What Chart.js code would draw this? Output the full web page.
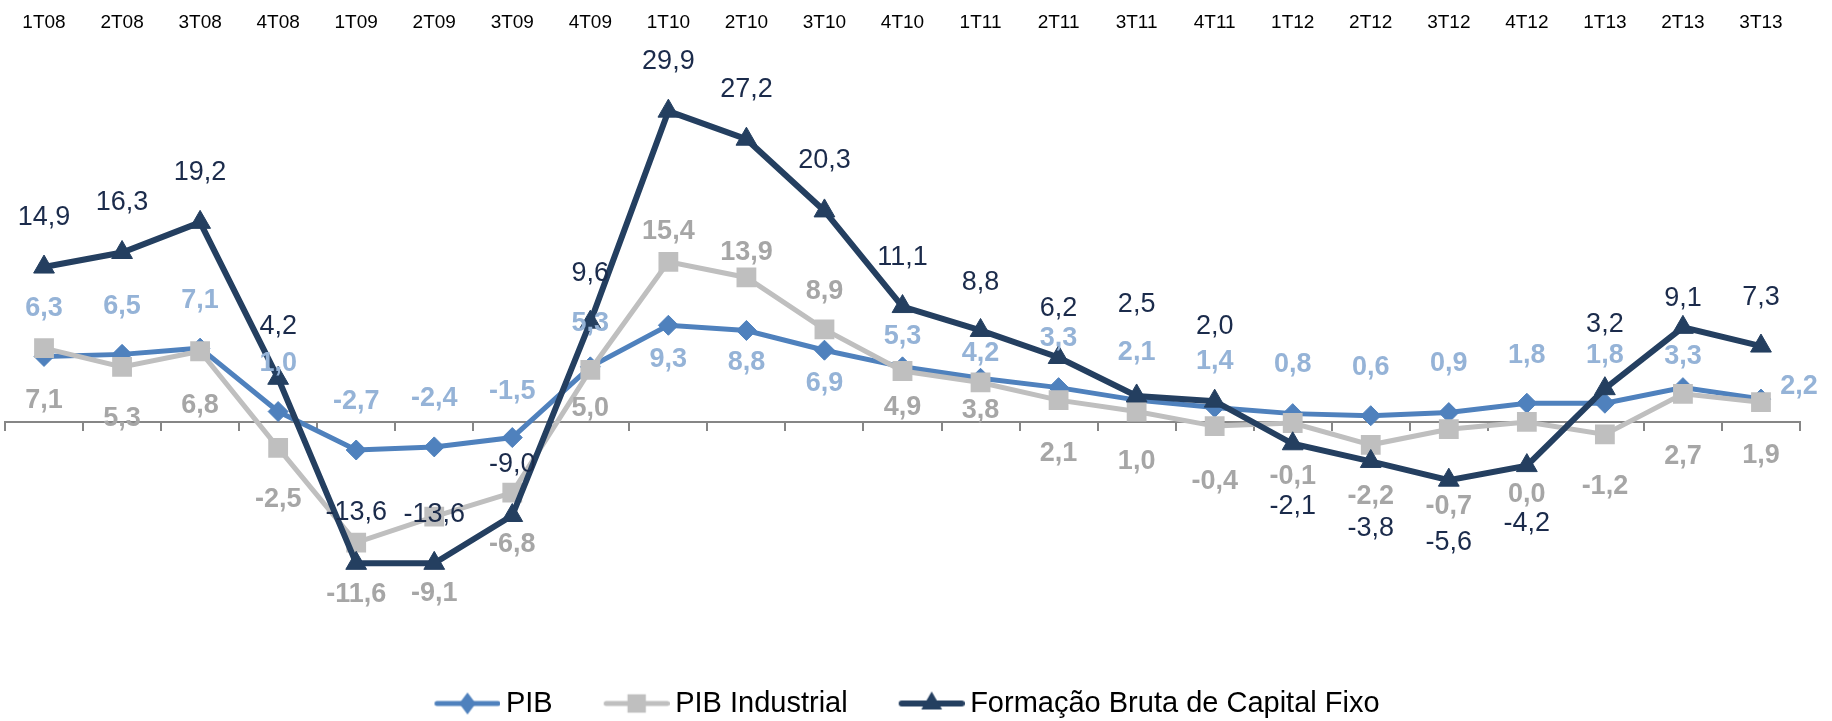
<!DOCTYPE html>
<html lang="pt">
<head>
<meta charset="utf-8">
<title>PIB, PIB Industrial e FBCF</title>
<script src="https://cdn.jsdelivr.net/npm/chart.js@4.4.0/dist/chart.umd.min.js"></script>
<style>
  html, body { margin: 0; padding: 0; background: #fff; }
  #wrap { width: 1832px; height: 721px; position: relative; }
</style>
</head>
<body>
<div id="wrap"><canvas id="grafico"></canvas></div>
<script>
const trimestres = ["1T08", "2T08", "3T08", "4T08", "1T09", "2T09", "3T09", "4T09",
  "1T10", "2T10", "3T10", "4T10", "1T11", "2T11", "3T11", "4T11",
  "1T12", "2T12", "3T12", "4T12", "1T13", "2T13", "3T13"];

const pib = [6.3, 6.5, 7.1, 1.0, -2.7, -2.4, -1.5, 5.3, 9.3, 8.8, 6.9, 5.3,
  4.2, 3.3, 2.1, 1.4, 0.8, 0.6, 0.9, 1.8, 1.8, 3.3, 2.2];
const pibIndustrial = [7.1, 5.3, 6.8, -2.5, -11.6, -9.1, -6.8, 5.0, 15.4, 13.9, 8.9, 4.9,
  3.8, 2.1, 1.0, -0.4, -0.1, -2.2, -0.7, 0.0, -1.2, 2.7, 1.9];
const fbcf = [14.9, 16.3, 19.2, 4.2, -13.6, -13.6, -9.0, 9.6, 29.9, 27.2, 20.3, 11.1,
  8.8, 6.2, 2.5, 2.0, -2.1, -3.8, -5.6, -4.2, 3.2, 9.1, 7.3];

// onde fica cada rotulo em relacao ao ponto (px, negativo = acima)
const dyPib = [-48, -48, -48, -48, -48, -48, -46, -43, 34, 32, 33, -30,
  -25, -49, -48, -46, -49, -48, -49, -48, -48, -31, -13];
const dxPib = [0, 0, 0, 0, 0, 0, 0, 0, 0, 0, 0, 0, 0, 0, 0, 0, 0, 0, 0, 0, 0, 0, 38];
const dyInd = [52, 52, 54, 52, 52, 77, 52, 39, -30, -25, -38, 37,
  28, 53, 50, 55, 54, 52, 77, 73, 52, 63, 53];
const dyFbcf = [-50, -50, -50, -52, -51, -49, -51, -49, -50, -50, -50, -49,
  -48, -49, -91, -75, 63, 67, 62, 58, -64, -29, -49];

const FONTE = "'Liberation Sans', Arial, sans-serif";

function fmt(v) {
  return v.toFixed(1).replace('.', ',');
}

// icone da legenda: linha com o marcador no meio
function icone(cor, forma, raio, espessura) {
  const c = document.createElement('canvas');
  c.width = 84;
  c.height = 30;
  const g = c.getContext('2d');
  g.strokeStyle = cor;
  g.fillStyle = cor;
  g.lineWidth = espessura;
  g.lineCap = 'round';
  g.beginPath();
  g.moveTo(18 + espessura / 2, 15);
  g.lineTo(84 - espessura / 2, 15);
  g.stroke();
  const cx = 51, cy = 15;
  g.beginPath();
  if (forma === 'rectRot') {
    g.moveTo(cx, cy - raio);
    g.lineTo(cx + raio * 0.75, cy);
    g.lineTo(cx, cy + raio);
    g.lineTo(cx - raio * 0.75, cy);
  } else if (forma === 'rect') {
    const s = raio * Math.SQRT1_2;
    g.rect(cx - s, cy - s, 2 * s, 2 * s);
  } else {
    g.moveTo(cx, cy - raio);
    g.lineTo(cx + raio * 0.866, cy + raio * 0.5);
    g.lineTo(cx - raio * 0.866, cy + raio * 0.5);
  }
  g.closePath();
  g.fill();
  return c;
}

const estilos = [
  { cor: '#95B3D7', peso: 'bold', dy: dyPib, dx: dxPib },
  { cor: '#A6A6A6', peso: 'bold', dy: dyInd },
  { cor: '#1B2B4B', peso: 'normal', dy: dyFbcf }
];

const icones = [
  icone('#4F81BD', 'rectRot', 11, 5),
  icone('#BFBFBF', 'rect', 13, 5),
  icone('#243F60', 'triangle', 12, 6)
];

const rotulos = {
  id: 'rotulos',
  afterDatasetsDraw(chart) {
    const ctx = chart.ctx;
    chart.data.datasets.forEach((ds, di) => {
      const meta = chart.getDatasetMeta(di);
      const st = estilos[di];
      ctx.save();
      ctx.font = st.peso + ' 27px ' + FONTE;
      ctx.fillStyle = st.cor;
      ctx.textAlign = 'center';
      ctx.textBaseline = 'middle';
      meta.data.forEach((pt, i) => {
        const dx = st.dx ? st.dx[i] : 0;
        ctx.fillText(fmt(ds.data[i]), pt.x + dx, pt.y + st.dy[i]);
      });
      ctx.restore();
    });
  }
};

new Chart(document.getElementById('grafico'), {
  type: 'line',
  data: {
    labels: trimestres,
    datasets: [
      {
        label: 'PIB',
        data: pib,
        xAxisID: 'x',
        borderColor: '#4F81BD',
        backgroundColor: '#4F81BD',
        borderWidth: 5,
        pointStyle: 'rectRot',
        pointRadius: 10,
        pointBorderWidth: 1,
        pointBackgroundColor: '#4F81BD',
        pointBorderColor: '#4F81BD',
        order: 2
      },
      {
        label: 'PIB Industrial',
        data: pibIndustrial,
        xAxisID: 'x',
        borderColor: '#BFBFBF',
        backgroundColor: '#BFBFBF',
        borderWidth: 5,
        pointStyle: 'rect',
        pointRadius: 14,
        pointBorderWidth: 0,
        pointBackgroundColor: '#BFBFBF',
        pointBorderColor: '#BFBFBF',
        order: 1
      },
      {
        label: 'Formação Bruta de Capital Fixo',
        data: fbcf,
        xAxisID: 'x',
        borderColor: '#243F60',
        backgroundColor: '#243F60',
        borderWidth: 6,
        pointStyle: 'triangle',
        pointRadius: 12,
        pointBorderWidth: 1,
        pointBackgroundColor: '#243F60',
        pointBorderColor: '#243F60',
        order: 0
      }
    ]
  },
  options: {
    responsive: true,
    maintainAspectRatio: false,
    animation: false,
    layout: { autoPadding: false, padding: { left: 5, right: 32, top: 8, bottom: -7 } },
    elements: { line: { tension: 0 } },
    scales: {
      x: {
        axis: 'x',
        type: 'category',
        position: { y: 0 },
        offset: true,
        ticks: { display: false },
        grid: {
          offset: true,
          drawOnChartArea: false,
          drawTicks: true,
          tickLength: 8,
          color: '#868686',
          lineWidth: 2
        },
        border: { display: true, color: '#868686', width: 2 }
      },
      xTop: {
        axis: 'x',
        type: 'category',
        position: 'top',
        offset: true,
        grid: { display: false, drawTicks: false },
        border: { display: false },
        ticks: {
          color: '#000',
          padding: 3,
          maxRotation: 0,
          autoSkip: false,
          font: { family: FONTE, size: 19 }
        }
      },
      y: {
        display: false,
        min: -21.65,
        max: 37.05
      }
    },
    plugins: {
      tooltip: { enabled: false },
      legend: {
        position: 'bottom',
        labels: {
          usePointStyle: true,
          pointStyleWidth: 66,
          padding: 42,
          color: '#000',
          font: { family: FONTE, size: 29 },
          generateLabels(chart) {
            return chart.data.datasets.map((ds, i) => ({
              text: ds.label,
              pointStyle: icones[i],
              fillStyle: 'transparent',
              strokeStyle: 'transparent',
              lineWidth: 0,
              fontColor: '#000',
              hidden: false,
              datasetIndex: i
            }));
          }
        }
      }
    }
  },
  plugins: [rotulos]
});
</script>
</body>
</html>
